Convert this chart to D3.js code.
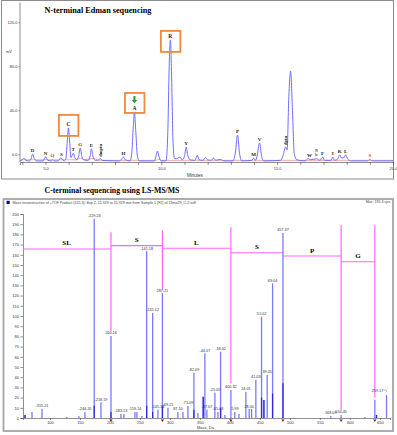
<!DOCTYPE html>
<html>
<head>
<meta charset="utf-8">
<script src="https://cdn.jsdelivr.net/npm/d3@7"></script>
<style>
  body { margin: 0; background: #fff; }
  .axis text { font-family: Arial, "Liberation Sans", sans-serif; font-size: 4px; fill: #333; }
  .axis path, .axis line { stroke: #444; stroke-width: 0.6; }
</style>
</head>
<body>
<div id="chart"></div>
<script>
// ---- N-terminal Edman chromatogram (time in min, signal in mV)
const traceTime = [3.9,4.0,4.07,4.15,4.3,4.38,4.44,4.52,4.62,4.9,4.97,5.02,5.1,5.25,5.3,5.36,5.55,5.65,5.72,5.8,5.88,5.95,5.99,6.04,6.1,6.15,6.2,6.27,6.35,6.44,6.5,6.57,6.65,6.85,6.93,6.98,7.05,7.15,7.3,7.37,7.45,8.2,8.3,8.36,8.45,8.65,8.72,8.79,8.84,8.9,8.97,9.05,9.7,9.78,9.83,9.9,9.98,10.2,10.28,10.34,10.39,10.44,10.5,10.57,10.65,10.8,10.9,11.0,11.07,11.14,11.25,11.45,11.55,11.63,11.8,11.9,12.0,12.15,12.25,12.35,12.55,12.7,13.1,13.2,13.29,13.37,13.46,13.9,13.98,14.06,14.13,14.24,14.33,14.42,15.15,15.27,15.36,15.43,15.5,15.58,15.66,15.74,15.85,16.2,16.35,16.45,16.7,16.85,16.96,17.05,17.32,17.4,17.48,17.62,17.7,17.78,17.88,17.96,18.05,18.2,18.9,19.0,19.1,20.0];
const traceMv = [-6,-5,-3.5,-5.5,-6,-4,0,-4,-6,-6,-3,-2.5,-5.5,-6,-5,-6,-6,-3.5,-4,-6,-4,15,24,12,-3,-1,1,-3,-5,-1,5.7,-2,-5,-5.5,-1,5,-2,-5.5,-5,-4,-5.5,-6,-4,-2.5,-5,-6,0,25,38.5,20,-2,-6,-6,-1,3,-2,-6,-6,20,80,104,75,15,-4,-4,-2.5,-5,-2,6.6,-1,-5,-5.5,-1,-5,-5.5,-3,-5,-5.5,-3.5,-5.5,-4.5,-6,-6,2,17.5,2,-6,-5.5,-3.5,-5.5,-2,10.3,-2,-6,-5.5,0,6.6,4,50,75.7,40,0,-5,-6,-4,-5,-4,-5.5,-2.5,-5.5,-5.5,-2.5,-5.5,-4,-0.5,-3.5,-3,-0.5,-4.5,-6,-6,-4.5,-6,-6];
const refTime = [3.9,6.3,6.5,6.7,6.95,7.1,7.3,9.8,9.9,10.0,20.0];
const refMv = [-5,-5,-3.5,-5,-4,-3.8,-5.5,-5.5,-4.5,-5.5,-5.5];

const peakNames = ["D","N","Q","S","C","T","G","E","dmptu","H","A","R","Y","P","M","V","dptu","W","Nle","F","I","K","L","S"];
const peakTimes = [4.44,5.0,5.3,5.69,5.99,6.2,6.5,6.98,7.37,8.36,8.84,10.39,11.07,13.29,13.98,14.24,15.36,16.4,16.7,16.96,17.4,17.7,17.96,19.0];
const peakHeights = [0,-2.5,-4.5,-3.5,24,1,5.7,5,-4,-2.5,38.5,104,6.6,17.5,-3.5,10.3,6.6,-4,-4,-2.5,-2.5,-0.5,-0.5,-4.5];
const boxedPeaks = ["C","A","R"];
const mvTicks = [0, 40, 80, 120];
const minTicks = [4,5,6,7,8,9,10,11,12,13,14,15,16,17,18,19,20];
const minLabels = [5, 10, 15, 20];

// ---- C-terminal MS/MS spectrum (mass in Da, intensity in cps)
const msMass = [58.3,70,86.7,128,148,158.3,173.8,185,201.7,218.3,223.3,241.7,245,253.3,261.2,271.2,280,287.5,296.7,313.3,321.7,330,340,346.7,355.5,358.3,361.7,375,380,384.5,391.7,401.7,408.3,415,426.7,432.2,436.2,443.3,452.8,456.7,462.2,471.2,488.5,568.3,585.5,625,641.7,644.5,661.2];
const msInt = [3,6,9,1,2,6,195.3,15.4,80.4,4,4,6,6,2,163.7,103,8,122.5,10,6,6,11.8,44.4,5,20.9,63.4,8,24.8,6,65,3,27.5,6,4,25.8,8.8,8.8,37.3,99.3,17.6,42.2,132,181.4,2,3,1,17.6,3,22.5];
const msLabels = ["","","-315.21","","","-244.20","-229.23","-218.19","200.16","-183.13","","-159.14","","","-141.18","-131.12","-145.14","287.21","-69.15","87.10","","-71.09","-82.09","","","-44.07","-47.07","-25.05","-65.03","-18.02","","400.32","5.99","","24.01","28.00","","41.03","51.02","","39.05","69.04","457.37","168.09","554.45","","","","259.17"];
const msDarkMass = [58.3,173.8,201.7,261.2,271.2,287.5,340,355.5,384.5,452.8,456.7,471.2,488.5,644.5];
const msDarkInt = [3,12,6,12,6,12,8,20.9,10,20,17.6,24,34,3];

const ladderNames = ["SL","S","L","S","P","G"];
const ladderFrom = [55,201.7,287.5,401.7,488.5,585.5];
const ladderTo = [200.5,287.5,400.5,488.5,585.5,641.7];
const ladderLevel = [165.7,169,166.4,162,158.8,153.2];
const cutMass = [201.7,287.5,401.7,488.5,585.5,641.7];
const cutTop = [182,184,187,null,189,189];
const cutBottom = [85,126,34,null,8,20];
const cpsTicks = d3.range(0, 201, 10);
const daTicks = d3.range(100, 651, 50);

const W = 397, H = 435;
const svg = d3.select("#chart").append("svg")
  .attr("width", W).attr("height", H)
  .style("background", "#fff");

const serif = '"Liberation Serif", "Times New Roman", serif';
const sans = 'Arial, "Liberation Sans", sans-serif';

// ========== top panel ==========
svg.append("rect").attr("x", 1.5).attr("y", 0.5).attr("width", 392).attr("height", 178.5)
  .attr("fill", "none").attr("stroke", "#8c8c8c").attr("stroke-width", 1);

svg.append("text").attr("x", 98).attr("y", 13).attr("text-anchor", "middle")
  .style("font-family", serif).style("font-weight", "bold").style("font-size", "8.2px")
  .text("N-terminal Edman sequencing");

const xT = d3.scaleLinear().domain([3.9, 20]).range([20, 393]);
const yT = d3.scaleLinear().domain([-7, 138]).range([162, 2.5]);

svg.append("g").attr("class", "axis")
  .attr("transform", "translate(20,0)")
  .call(d3.axisLeft(yT).tickValues(mvTicks).tickFormat(d3.format(".1f")).tickSize(1.5).tickPadding(1))
  .call(g => g.select(".domain").attr("d", `M0,${yT.range()[1]}V${yT.range()[0]}`));

svg.append("g").attr("class", "axis")
  .attr("transform", "translate(0,162)")
  .call(d3.axisBottom(xT).tickValues(minTicks).tickSize(3).tickPadding(2)
    .tickFormat(d => minLabels.includes(d) ? d3.format(".1f")(d) : ""));

svg.append("text").attr("x", 9).attr("y", 53).attr("text-anchor", "middle")
  .style("font-family", sans).style("font-size", "4px").attr("fill", "#333").text("mV");
svg.append("text").attr("x", 195).attr("y", 176.5).attr("text-anchor", "middle")
  .style("font-family", sans).style("font-size", "4.5px").attr("fill", "#333").text("Minutes");

const trace = d3.line().x(d => xT(d[0])).y(d => yT(d[1])).curve(d3.curveMonotoneX);

svg.append("path").datum(d3.zip(refTime, refMv))
  .attr("d", trace).attr("fill", "none").attr("stroke", "#f4a0a0").attr("stroke-width", 0.9);
svg.append("path").datum(d3.zip(traceTime, traceMv))
  .attr("d", trace).attr("fill", "none").attr("stroke", "#6d6dff").attr("stroke-width", 1);

const peaks = peakNames.map((n, i) => ({ name: n, t: peakTimes[i], v: peakHeights[i], i }));
const redIdx = [2, 23];
const rotated = ["dmptu", "dptu"];

svg.selectAll(".plabel").data(peaks.filter(d => !rotated.includes(d.name) && d.name !== "Nle"))
  .enter().append("text").attr("class", "plabel")
  .attr("x", d => xT(d.t))
  .attr("y", d => yT(d.v) - 2)
  .attr("text-anchor", "middle")
  .style("font-family", serif).style("font-weight", "bold")
  .style("font-size", d => boxedPeaks.includes(d.name) ? "5.5px" : "5px")
  .attr("fill", d => redIdx.includes(d.i) ? "#e03030" : "#222")
  .text(d => d.name);

svg.selectAll(".rlabel").data(peaks.filter(d => rotated.includes(d.name)))
  .enter().append("text").attr("class", "rlabel")
  .attr("transform", d => `translate(${xT(d.t) + 1.5},${yT(d.v) - 2}) rotate(-90)`)
  .style("font-family", serif).style("font-weight", "bold").style("font-size", "4.5px")
  .attr("fill", "#222").text(d => d.name);

peaks.filter(d => d.name === "Nle").forEach(d => {
  svg.append("text").attr("x", xT(d.t)).attr("y", yT(d.v) - 7)
    .attr("text-anchor", "middle").style("font-family", serif).style("font-weight", "bold")
    .style("font-size", "3.5px").attr("fill", "#222").text("N");
  svg.append("text").attr("x", xT(d.t)).attr("y", yT(d.v) - 3)
    .attr("text-anchor", "middle").style("font-family", serif).style("font-weight", "bold")
    .style("font-size", "3.5px").attr("fill", "#222").text("le");
});

// orange boxes round the identified residues
const boxPad = { C: [-13, 8], A: [-19, 1], R: [-9, 12] };
peaks.filter(d => boxedPeaks.includes(d.name)).forEach(d => {
  const cx = xT(d.t), top = yT(d.v);
  const [a, b] = boxPad[d.name];
  svg.append("rect").attr("x", cx - 9.5).attr("y", top + a).attr("width", 19.5).attr("height", b - a)
    .attr("fill", "none").attr("stroke", "#f5883a").attr("stroke-width", 1.8);
});
const pA = peaks.find(d => d.name === "A");
const ax = xT(pA.t), ay = yT(pA.v) - 16;
svg.append("path")
  .attr("d", `M${ax - 1},${ay} h2 v4 h1.6 l-2.6,3.5 l-2.6,-3.5 h1.6 z`)
  .attr("fill", "#2f9a2f");

// ========== bottom panel ==========
svg.append("rect").attr("x", 3.5).attr("y", 199).attr("width", 389.5).attr("height", 232)
  .attr("fill", "none").attr("stroke", "#a5a5a5").attr("stroke-width", 1.8);

svg.append("text").attr("x", 112).attr("y", 193).attr("text-anchor", "middle")
  .style("font-family", serif).style("font-weight", "bold").style("font-size", "7.8px")
  .text("C-terminal sequencing using LS-MS/MS");

svg.append("rect").attr("x", 6.5).attr("y", 200.8).attr("width", 3.2).attr("height", 3.2).attr("fill", "#0000c0");
svg.append("text").attr("x", 12.5).attr("y", 203.8)
  .style("font-family", sans).style("font-size", "3.6px").attr("fill", "#444")
  .text("Mass reconstruction of +TOF Product (555.3): Exp 2, 15.929 to 15.929 min from Sample 1 (F2) of 13ma29_C-2.wiff");
svg.append("text").attr("x", 391).attr("y", 203.3).attr("text-anchor", "end")
  .style("font-family", sans).style("font-size", "3.6px").attr("fill", "#444")
  .text("Max. 195.3 cps.");

const xM = d3.scaleLinear().domain([55, 667]).range([23, 390]);
const yM = d3.scaleLinear().domain([0, 200]).range([418, 214]);

svg.append("g").attr("class", "axis")
  .attr("transform", "translate(23,0)")
  .call(d3.axisLeft(yM).tickValues(cpsTicks).tickSize(2.5).tickPadding(1.5));

svg.append("g").attr("class", "axis")
  .attr("transform", "translate(0,418)")
  .call(d3.axisBottom(xM).tickValues(daTicks).tickSize(2).tickPadding(1.5));

svg.append("text").attr("x", 197).attr("y", 428.5)
  .style("font-family", sans).style("font-size", "4px").attr("fill", "#333").text("Mass, Da");

// fragment ladder
const ladder = ladderNames.map((n, i) => ({ name: n, from: ladderFrom[i], to: ladderTo[i], lv: ladderLevel[i] }));
svg.selectAll(".rung").data(ladder).enter().append("line").attr("class", "rung")
  .attr("x1", d => xM(d.from)).attr("x2", d => xM(d.to))
  .attr("y1", d => yM(d.lv)).attr("y2", d => yM(d.lv))
  .attr("stroke", "#ff66ff").attr("stroke-width", 1.2);
svg.selectAll(".rungl").data(ladder).enter().append("text").attr("class", "rungl")
  .attr("x", d => xM((d.from + d.to) / 2)).attr("y", d => yM(d.lv) - 3.5)
  .attr("text-anchor", "middle")
  .style("font-family", serif).style("font-weight", "bold").style("font-size", "7px")
  .text(d => d.name);

const cuts = cutMass.map((m, i) => ({ m, top: cutTop[i], bot: cutBottom[i] })).filter(d => d.top !== null);
svg.selectAll(".cut").data(cuts).enter().append("line").attr("class", "cut")
  .attr("x1", d => xM(d.m)).attr("x2", d => xM(d.m))
  .attr("y1", d => yM(d.top)).attr("y2", d => yM(d.bot))
  .attr("stroke", "#ff66ff").attr("stroke-width", 1.2);

// spectrum sticks
const ms = msMass.map((m, i) => ({ m, v: msInt[i], label: msLabels[i] }));
svg.selectAll(".stick").data(ms).enter().append("line").attr("class", "stick")
  .attr("x1", d => xM(d.m)).attr("x2", d => xM(d.m))
  .attr("y1", yM(0)).attr("y2", d => yM(d.v))
  .attr("stroke", "#7a7aff").attr("stroke-width", 1.3);
svg.selectAll(".dark").data(d3.zip(msDarkMass, msDarkInt)).enter().append("line").attr("class", "dark")
  .attr("x1", d => xM(d[0])).attr("x2", d => xM(d[0]))
  .attr("y1", yM(0)).attr("y2", d => yM(d[1]))
  .attr("stroke", "#2a2ae0").attr("stroke-width", 1.3);

const shifted = { "259.17": -9 };
svg.selectAll(".mslabel").data(ms.filter(d => d.label)).enter().append("text").attr("class", "mslabel")
  .attr("x", d => xM(d.m) + (shifted[d.label] || 0))
  .attr("y", d => yM(d.v) - 1.5 + (shifted[d.label] ? -1.5 : 0))
  .attr("text-anchor", "middle")
  .style("font-family", sans).style("font-size", "3.8px").attr("fill", "#333")
  .text(d => d.label);
const p259 = ms.find(d => d.label === "259.17");
svg.append("path")
  .attr("d", `M${xM(p259.m) - 3},${yM(p259.v) - 5}h2.5l0.8,2`)
  .attr("fill", "none").attr("stroke", "#555").attr("stroke-width", 0.4);

svg.selectAll(".mark").data(cutMass).enter().append("path").attr("class", "mark")
  .attr("d", d => `M${xM(d) - 1.6},419.5h3.2l-1.6,2.6z`)
  .attr("fill", "#8b1010");
</script>
</body>
</html>
